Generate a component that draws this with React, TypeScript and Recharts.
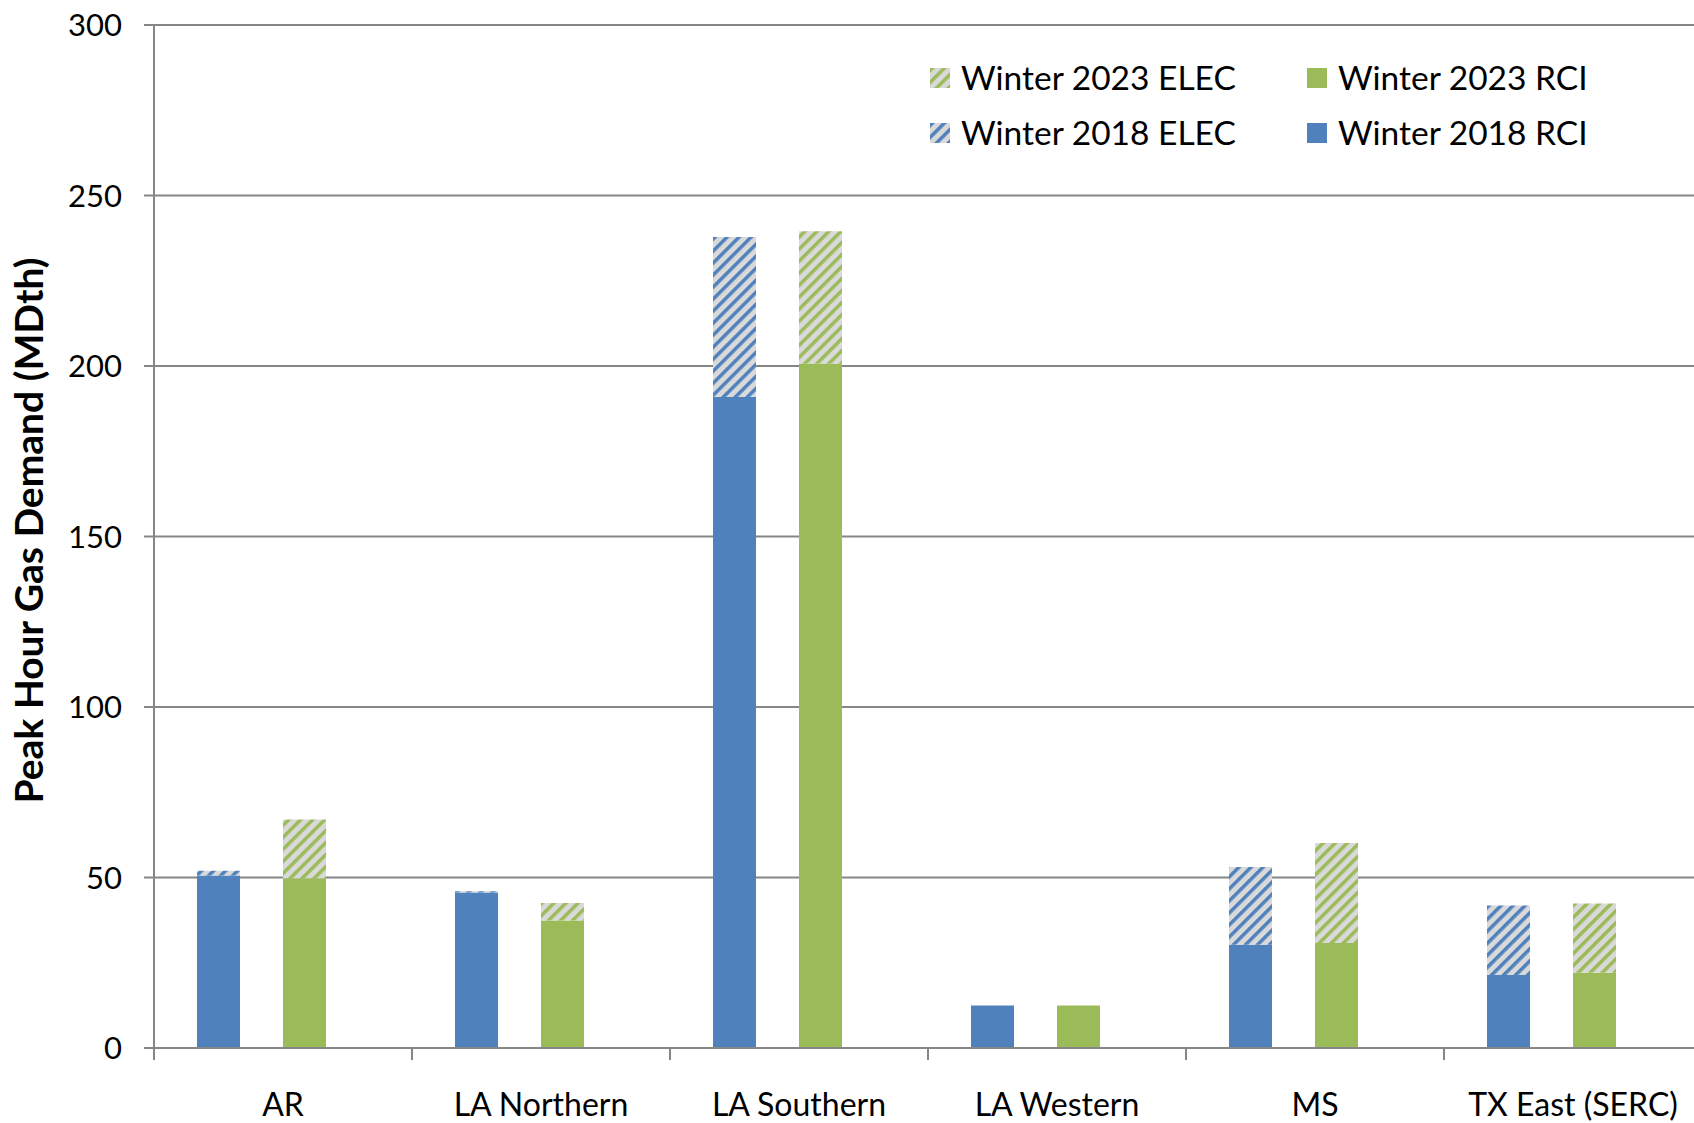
import React from 'react';
import {
  BarChart,
  Bar,
  XAxis,
  YAxis,
  CartesianGrid,
  Legend
} from 'recharts';

const categories = ['AR', 'LA Northern', 'LA Southern', 'LA Western', 'MS', 'TX East (SERC)'];
const rci2018 = [50.6, 45.6, 190.9, 12.5, 30.3, 21.4];
const elec2018 = [1.4, 0.4, 46.9, 0, 22.8, 20.4];
const rci2023 = [49.8, 37.4, 200.7, 12.5, 30.8, 22.1];
const elec2023 = [17.2, 5.1, 38.8, 0, 29.3, 20.3];
const yTicks = [0, 50, 100, 150, 200, 250, 300];

const legendOrder = ['Winter 2023 ELEC', 'Winter 2023 RCI', 'Winter 2018 ELEC', 'Winter 2018 RCI'];

const BLUE = '#4F81BD';
const GREEN = '#9BBB59';
const HATCH_BG = '#D9D9D9';
const GREY = '#868686';
const FONT = 'Lato, "Open Sans", sans-serif';

const WIDTH = 1694;
const HEIGHT = 1123;
const Y_AXIS_W = 154;
const X_AXIS_H = 75;
// plot runs a little past the right edge, as in the original
const RIGHT_OVERHANG = 8;
const PLOT_W = WIDTH - Y_AXIS_W + RIGHT_OVERHANG;

const data = categories.map((name, i) => ({
  name,
  rci2018: rci2018[i],
  elec2018: elec2018[i],
  rci2023: rci2023[i],
  elec2023: elec2023[i]
}));

const CategoryTick = (props: any) => {
  const { x, y, payload, index } = props;
  const band = PLOT_W / categories.length;
  const left = x - band / 2;
  return (
    <g>
      <line x1={left} y1={y} x2={left} y2={y + 12} stroke={GREY} strokeWidth={2} />
      {index === categories.length - 1 && (
        <line x1={x + band / 2} y1={y} x2={x + band / 2} y2={y + 12} stroke={GREY} strokeWidth={2} />
      )}
      <text x={x} y={y + 68} textAnchor="middle" fill="#000" fontSize={32} fontFamily={FONT}>
        {payload.value}
      </text>
    </g>
  );
};

const YTitle = (props: any) => {
  const vb = props.viewBox || { y: 25, height: 1023 };
  const cx = 28;
  const cy = vb.y + vb.height / 2 - 6;
  return (
    <text
      x={cx}
      y={cy}
      transform={`rotate(-90 ${cx} ${cy})`}
      textAnchor="middle"
      dominantBaseline="central"
      fontSize={39}
      fontWeight="bold"
      fontFamily={FONT}
      fill="#000"
    >
      Peak Hour Gas Demand (MDth)
    </text>
  );
};

const renderLegend = (props: any) => {
  const payload: any[] = props.payload || [];
  const items = legendOrder
    .map(name => payload.find(p => p.value === name))
    .filter(Boolean);
  return (
    <div style={{ display: 'grid', gridTemplateColumns: '377px 377px', fontFamily: FONT }}>
      {items.map((item: any) => (
        <div key={item.value} style={{ display: 'flex', alignItems: 'center', height: 55 }}>
          <svg width={20} height={20} style={{ marginRight: 11, flex: 'none' }}>
            <rect width={20} height={20} fill={item.color} />
          </svg>
          <span style={{ fontSize: 33.5, color: '#000', lineHeight: 1 }}>{item.value}</span>
        </div>
      ))}
    </div>
  );
};

export default function App() {
  return (
    <div style={{ position: 'absolute', left: 0, top: 0, width: WIDTH, height: HEIGHT, background: '#fff', overflow: 'hidden' }}>
      <BarChart
        width={WIDTH}
        height={HEIGHT}
        data={data}
        margin={{ top: 25, right: -RIGHT_OVERHANG, bottom: 0, left: 0 }}
        barCategoryGap="16.67%"
        barGap={0}
      >
        <defs>
          <pattern id="hatchBlue" width={8.5} height={8.5} patternUnits="userSpaceOnUse" patternTransform="rotate(45)">
            <rect width={8.5} height={8.5} fill={HATCH_BG} />
            <rect x={0} y={0} width={3.5} height={8.5} fill={BLUE} />
          </pattern>
          <pattern id="hatchGreen" width={8.5} height={8.5} patternUnits="userSpaceOnUse" patternTransform="rotate(45)">
            <rect width={8.5} height={8.5} fill={HATCH_BG} />
            <rect x={0} y={0} width={3.5} height={8.5} fill={GREEN} />
          </pattern>
        </defs>
        <CartesianGrid vertical={false} stroke={GREY} strokeWidth={2} />
        <XAxis
          dataKey="name"
          height={X_AXIS_H}
          interval={0}
          tickLine={false}
          tickSize={0}
          tickMargin={0}
          axisLine={{ stroke: GREY, strokeWidth: 2 }}
          tick={<CategoryTick />}
        />
        <YAxis
          width={Y_AXIS_W}
          domain={[0, 300]}
          ticks={yTicks}
          interval={0}
          tickSize={10}
          tickMargin={22}
          axisLine={{ stroke: GREY, strokeWidth: 2 }}
          tickLine={{ stroke: GREY, strokeWidth: 2 }}
          tick={{ fill: '#000', fontSize: 31, fontFamily: FONT }}
          label={<YTitle />}
        />
        <Legend
          layout="horizontal"
          verticalAlign="middle"
          align="center"
          content={renderLegend}
          wrapperStyle={{ top: 50, left: 930, width: 760 }}
        />
        <Bar dataKey="rci2018" name="Winter 2018 RCI" stackId="y2018" fill={BLUE} isAnimationActive={false} />
        <Bar dataKey="elec2018" name="Winter 2018 ELEC" stackId="y2018" fill="url(#hatchBlue)" isAnimationActive={false} />
        <Bar dataKey="spacerA" stackId="spacerA" legendType="none" fill="none" isAnimationActive={false} />
        <Bar dataKey="rci2023" name="Winter 2023 RCI" stackId="y2023" fill={GREEN} isAnimationActive={false} />
        <Bar dataKey="elec2023" name="Winter 2023 ELEC" stackId="y2023" fill="url(#hatchGreen)" isAnimationActive={false} />
        <Bar dataKey="spacerB" stackId="spacerB" legendType="none" fill="none" isAnimationActive={false} />
      </BarChart>
    </div>
  );
}
